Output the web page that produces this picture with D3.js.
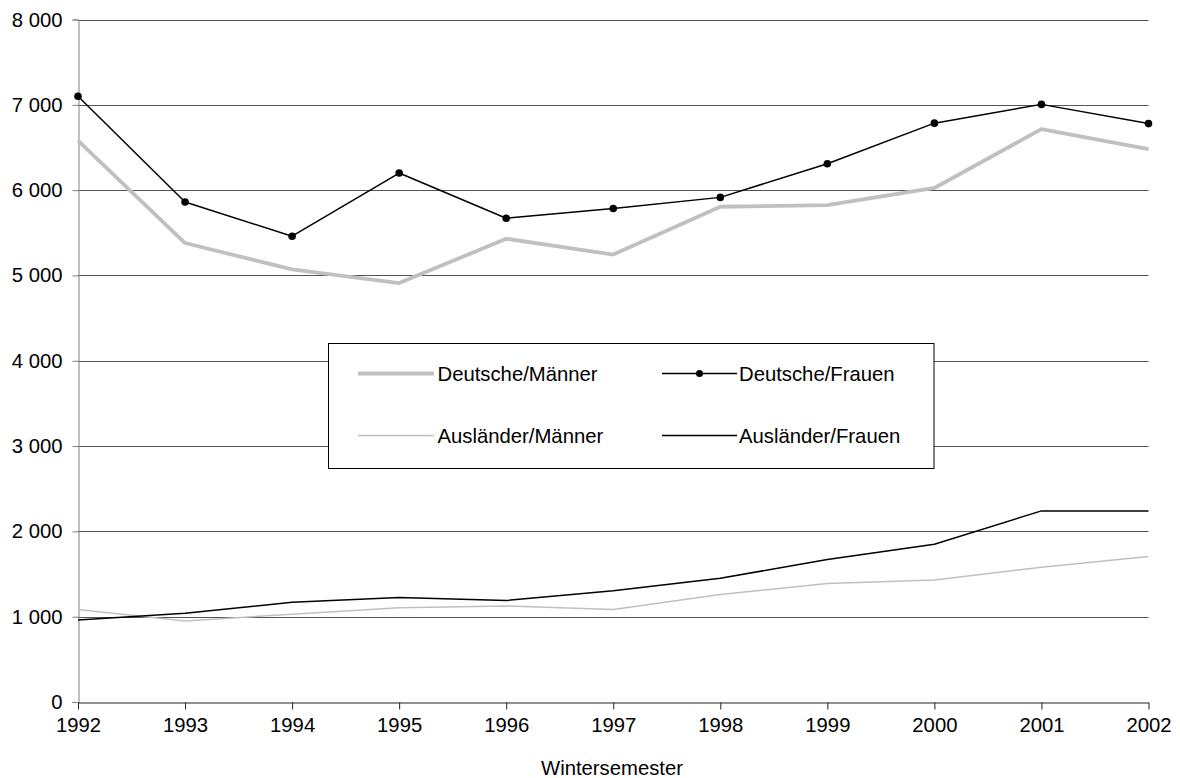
<!DOCTYPE html>
<html><head><meta charset="utf-8">
<script src="https://cdn.jsdelivr.net/npm/d3@7"></script>
<style>body{margin:0;background:#fff}svg{display:block;font-family:"Liberation Sans",Arial,sans-serif}</style>
</head><body>
<svg id="c" width="1180" height="778"></svg>
<script>
const years = [1992,1993,1994,1995,1996,1997,1998,1999,2000,2001,2002];
const deutscheMaenner = [6580,5380,5070,4910,5430,5245,5805,5825,6025,6715,6480];
const deutscheFrauen  = [7100,5860,5460,6200,5670,5785,5915,6310,6785,7005,6780];
const auslaenderMaenner = [1085,950,1030,1105,1125,1085,1260,1390,1430,1580,1705];
const auslaenderFrauen  = [960,1040,1170,1225,1190,1305,1450,1670,1850,2240,2240];
const yTicks = [0,1000,2000,3000,4000,5000,6000,7000,8000];
const xTitle = "Wintersemester";

const series = [
  {name:"Deutsche/Männer", values:deutscheMaenner, color:"#c0c0c0", width:3.8, dots:false},
  {name:"Deutsche/Frauen", values:deutscheFrauen, color:"#000", width:1.5, dots:true},
  {name:"Ausländer/Männer", values:auslaenderMaenner, color:"#c0c0c0", width:1.5, dots:false},
  {name:"Ausländer/Frauen", values:auslaenderFrauen, color:"#000", width:1.5, dots:false}
];

const FS = 20.3;
const svg = d3.select("#c");
const L = 78, R = 1148.5, T = 19.5, B = 702;
const x = d3.scaleLinear().domain([1992,2002]).range([L,R]);
const y = d3.scaleLinear().domain([0,8000]).range([B,T]);
const fmt = v => v === 0 ? "0" : d3.format(",")(v).replace(/,/g," ");

// gridlines
svg.append("g").selectAll("line").data(yTicks.filter(d=>d>0)).join("line")
  .attr("x1",L).attr("x2",R).attr("y1",d=>Math.round(y(d))+0.5).attr("y2",d=>Math.round(y(d))+0.5)
  .attr("stroke","#555").attr("stroke-width",1);

// y axis
const ya = svg.append("g").attr("transform",`translate(${L+0.5},0)`)
  .call(d3.axisLeft(y).tickValues(yTicks).tickFormat(fmt).tickSize(6).tickPadding(10));
ya.select(".domain").attr("stroke","#808080");
ya.selectAll(".tick line").attr("stroke","#808080");
ya.selectAll("text").attr("font-size",FS).attr("fill","#000").attr("font-family","Liberation Sans, Arial, sans-serif");

// x axis
const xa = svg.append("g").attr("transform",`translate(0,${Math.round(B)+0.5})`)
  .call(d3.axisBottom(x).tickValues(years).tickFormat(d3.format("d")).tickSize(7).tickPadding(8).tickSizeOuter(0));
xa.select(".domain").attr("stroke","#222");
xa.selectAll(".tick line").attr("stroke","#222");
xa.selectAll("text").attr("font-size",FS).attr("fill","#000").attr("font-family","Liberation Sans, Arial, sans-serif");

svg.append("text").attr("x",541).attr("y",775).attr("text-anchor","start")
  .attr("font-size",FS).text(xTitle);

// lines
const line = d3.line().x((d,i)=>x(years[i])).y(d=>y(d));
const order = [0,2,3,1];
order.forEach(k=>{
  const s = series[k];
  svg.append("path").datum(s.values).attr("d",line).attr("fill","none")
    .attr("stroke",s.color).attr("stroke-width",s.width).attr("stroke-linejoin","round");
  if(s.dots){
    svg.append("g").selectAll("circle").data(s.values).join("circle")
      .attr("cx",(d,i)=>x(years[i])).attr("cy",d=>y(d)).attr("r",3.8).attr("fill","#000");
  }
});

// legend
const lg = svg.append("g");
lg.append("rect").attr("x",328.5).attr("y",343.5).attr("width",605.5).attr("height",125)
  .attr("fill","#fff").attr("stroke","#000").attr("stroke-width",1);
const pos = [[358,434,437.5,373.5],[662,737,739,373.5],[358,434,437.5,435.5],[662,737,739,435.5]];
series.forEach((s,i)=>{
  const [a,b,t,yy] = pos[i];
  lg.append("line").attr("x1",a).attr("x2",b).attr("y1",yy).attr("y2",yy)
    .attr("stroke",s.color).attr("stroke-width",s.width);
  if(s.dots) lg.append("circle").attr("cx",(a+b)/2).attr("cy",yy).attr("r",3.5).attr("fill","#000");
  lg.append("text").attr("x",t).attr("y",yy).attr("dy","0.35em").attr("font-size",FS).text(s.name);
});
</script>
</body></html>
